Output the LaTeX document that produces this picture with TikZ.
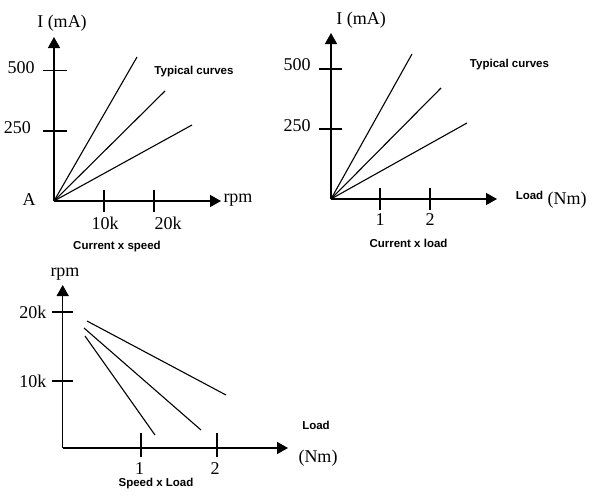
\documentclass[tikz,border=0pt]{standalone}
\usepackage{fontspec}
\setmainfont{Liberation Serif}
\newfontfamily\labfont{Liberation Sans}
\usetikzlibrary{arrows.meta}
\begin{document}
\begin{tikzpicture}[x=1pt,y=-1pt,
  axis/.style={line width=1.5pt,-{Triangle[length=11pt,width=12pt]}},
  tickmark/.style={line width=1.3pt},
  curve/.style={line width=1.1pt},
  num/.style={font=\fontsize{18}{18}\selectfont,inner sep=0pt},
  lab/.style={font=\labfont\bfseries\fontsize{11.5}{12}\selectfont,inner sep=0pt}]
\path[use as bounding box,fill=white] (0,0) rectangle (600,498);

% ---------- Chart 1: Current x speed ----------
\coordinate (o1) at (54,201);
\coordinate (y1top) at (54,37);
\coordinate (x1end) at (221,201);
\draw[axis] (o1) -- (y1top);
\draw[axis] (o1) -- (x1end);
\coordinate (t1a) at (43,70.7); \coordinate (t1b) at (67,70.7);
\coordinate (t1c) at (43,131); \coordinate (t1d) at (67,131);
\draw[tickmark] (t1a) -- (t1b);
\draw[tickmark] (t1c) -- (t1d);
\coordinate (t1e) at (104,190); \coordinate (t1f) at (104,212);
\coordinate (t1g) at (154,190); \coordinate (t1h) at (154,212);
\draw[tickmark] (t1e) -- (t1f);
\draw[tickmark] (t1g) -- (t1h);
\coordinate (c1a) at (137,57);
\coordinate (c1b) at (165,91);
\coordinate (c1c) at (192,125);
\draw[curve] (o1) -- (c1a);
\draw[curve] (o1) -- (c1b);
\draw[curve] (o1) -- (c1c);
\node[num] (l1I) at (62,23) {I (mA)};
\node[num] (l1500) at (21,68) {500};
\node[num] (l1250) at (17.5,128) {250};
\node[num] (l1A) at (29,200) {A};
\node[num] (l110k) at (105,223) {10k};
\node[num] (l120k) at (168,223) {20k};
\node[num] (l1rpm) at (238,200) {rpm};
\node[lab] (l1typ) at (194,72) {Typical curves};
\node[lab] (l1cap) at (117,247) {Current x speed};

% ---------- Chart 2: Current x load ----------
\coordinate (o2) at (331,199);
\coordinate (y2top) at (331,33);
\coordinate (x2end) at (497,199);
\draw[axis] (o2) -- (y2top);
\draw[axis] (o2) -- (x2end);
\coordinate (t2a) at (319,69); \coordinate (t2b) at (342,69);
\coordinate (t2c) at (319,129); \coordinate (t2d) at (342,129);
\draw[tickmark] (t2a) -- (t2b);
\draw[tickmark] (t2c) -- (t2d);
\coordinate (t2e) at (380,188); \coordinate (t2f) at (380,210);
\coordinate (t2g) at (430,188); \coordinate (t2h) at (430,210);
\draw[tickmark] (t2e) -- (t2f);
\draw[tickmark] (t2g) -- (t2h);
\coordinate (c2a) at (412,54);
\coordinate (c2b) at (441,88);
\coordinate (c2c) at (467,123);
\draw[curve] (o2) -- (c2a);
\draw[curve] (o2) -- (c2b);
\draw[curve] (o2) -- (c2c);
\node[num] (l2I) at (361,20) {I (mA)};
\node[num] (l2500) at (297,65) {500};
\node[num] (l2250) at (297,126) {250};
\node[num] (l21) at (380,220) {1};
\node[num] (l22) at (430,220) {2};
\node[lab] (l2load) at (529.5,195) {Load};
\node[num] (l2nm) at (567,200) {(Nm)};
\node[lab] (l2typ) at (509.5,65) {Typical curves};
\node[lab] (l2cap) at (408.5,243) {Current x load};

% ---------- Chart 3: Speed x Load ----------
\coordinate (o3) at (62.7,448);
\coordinate (y3top) at (62.7,285);
\coordinate (x3end) at (288,448);
\draw[axis] (o3) -- (y3top);
\draw[axis] (o3) -- (x3end);
\coordinate (t3a) at (52,312); \coordinate (t3b) at (73,312);
\coordinate (t3c) at (52,381); \coordinate (t3d) at (73,381);
\draw[tickmark] (t3a) -- (t3b);
\draw[tickmark] (t3c) -- (t3d);
\coordinate (t3e) at (141,433); \coordinate (t3f) at (141,457);
\coordinate (t3g) at (217,433); \coordinate (t3h) at (217,457);
\draw[tickmark] (t3e) -- (t3f);
\draw[tickmark] (t3g) -- (t3h);
\coordinate (s3a) at (87,321);  \coordinate (e3a) at (226,395);
\coordinate (s3b) at (84,328);  \coordinate (e3b) at (201,430);
\coordinate (s3c) at (85,336);  \coordinate (e3c) at (155,435);
\draw[curve] (s3a) -- (e3a);
\draw[curve] (s3b) -- (e3b);
\draw[curve] (s3c) -- (e3c);
\node[num] (l3rpm) at (65,274) {rpm};
\node[num] (l320k) at (33,312) {20k};
\node[num] (l310k) at (33,381) {10k};
\node[num] (l31) at (139.5,469) {1};
\node[num] (l32) at (215,469) {2};
\node[lab] (l3load) at (316,425) {Load};
\node[num] (l3nm) at (318,458) {(Nm)};
\node[lab] (l3cap) at (156,484) {Speed x Load};
\end{tikzpicture}
\end{document}
